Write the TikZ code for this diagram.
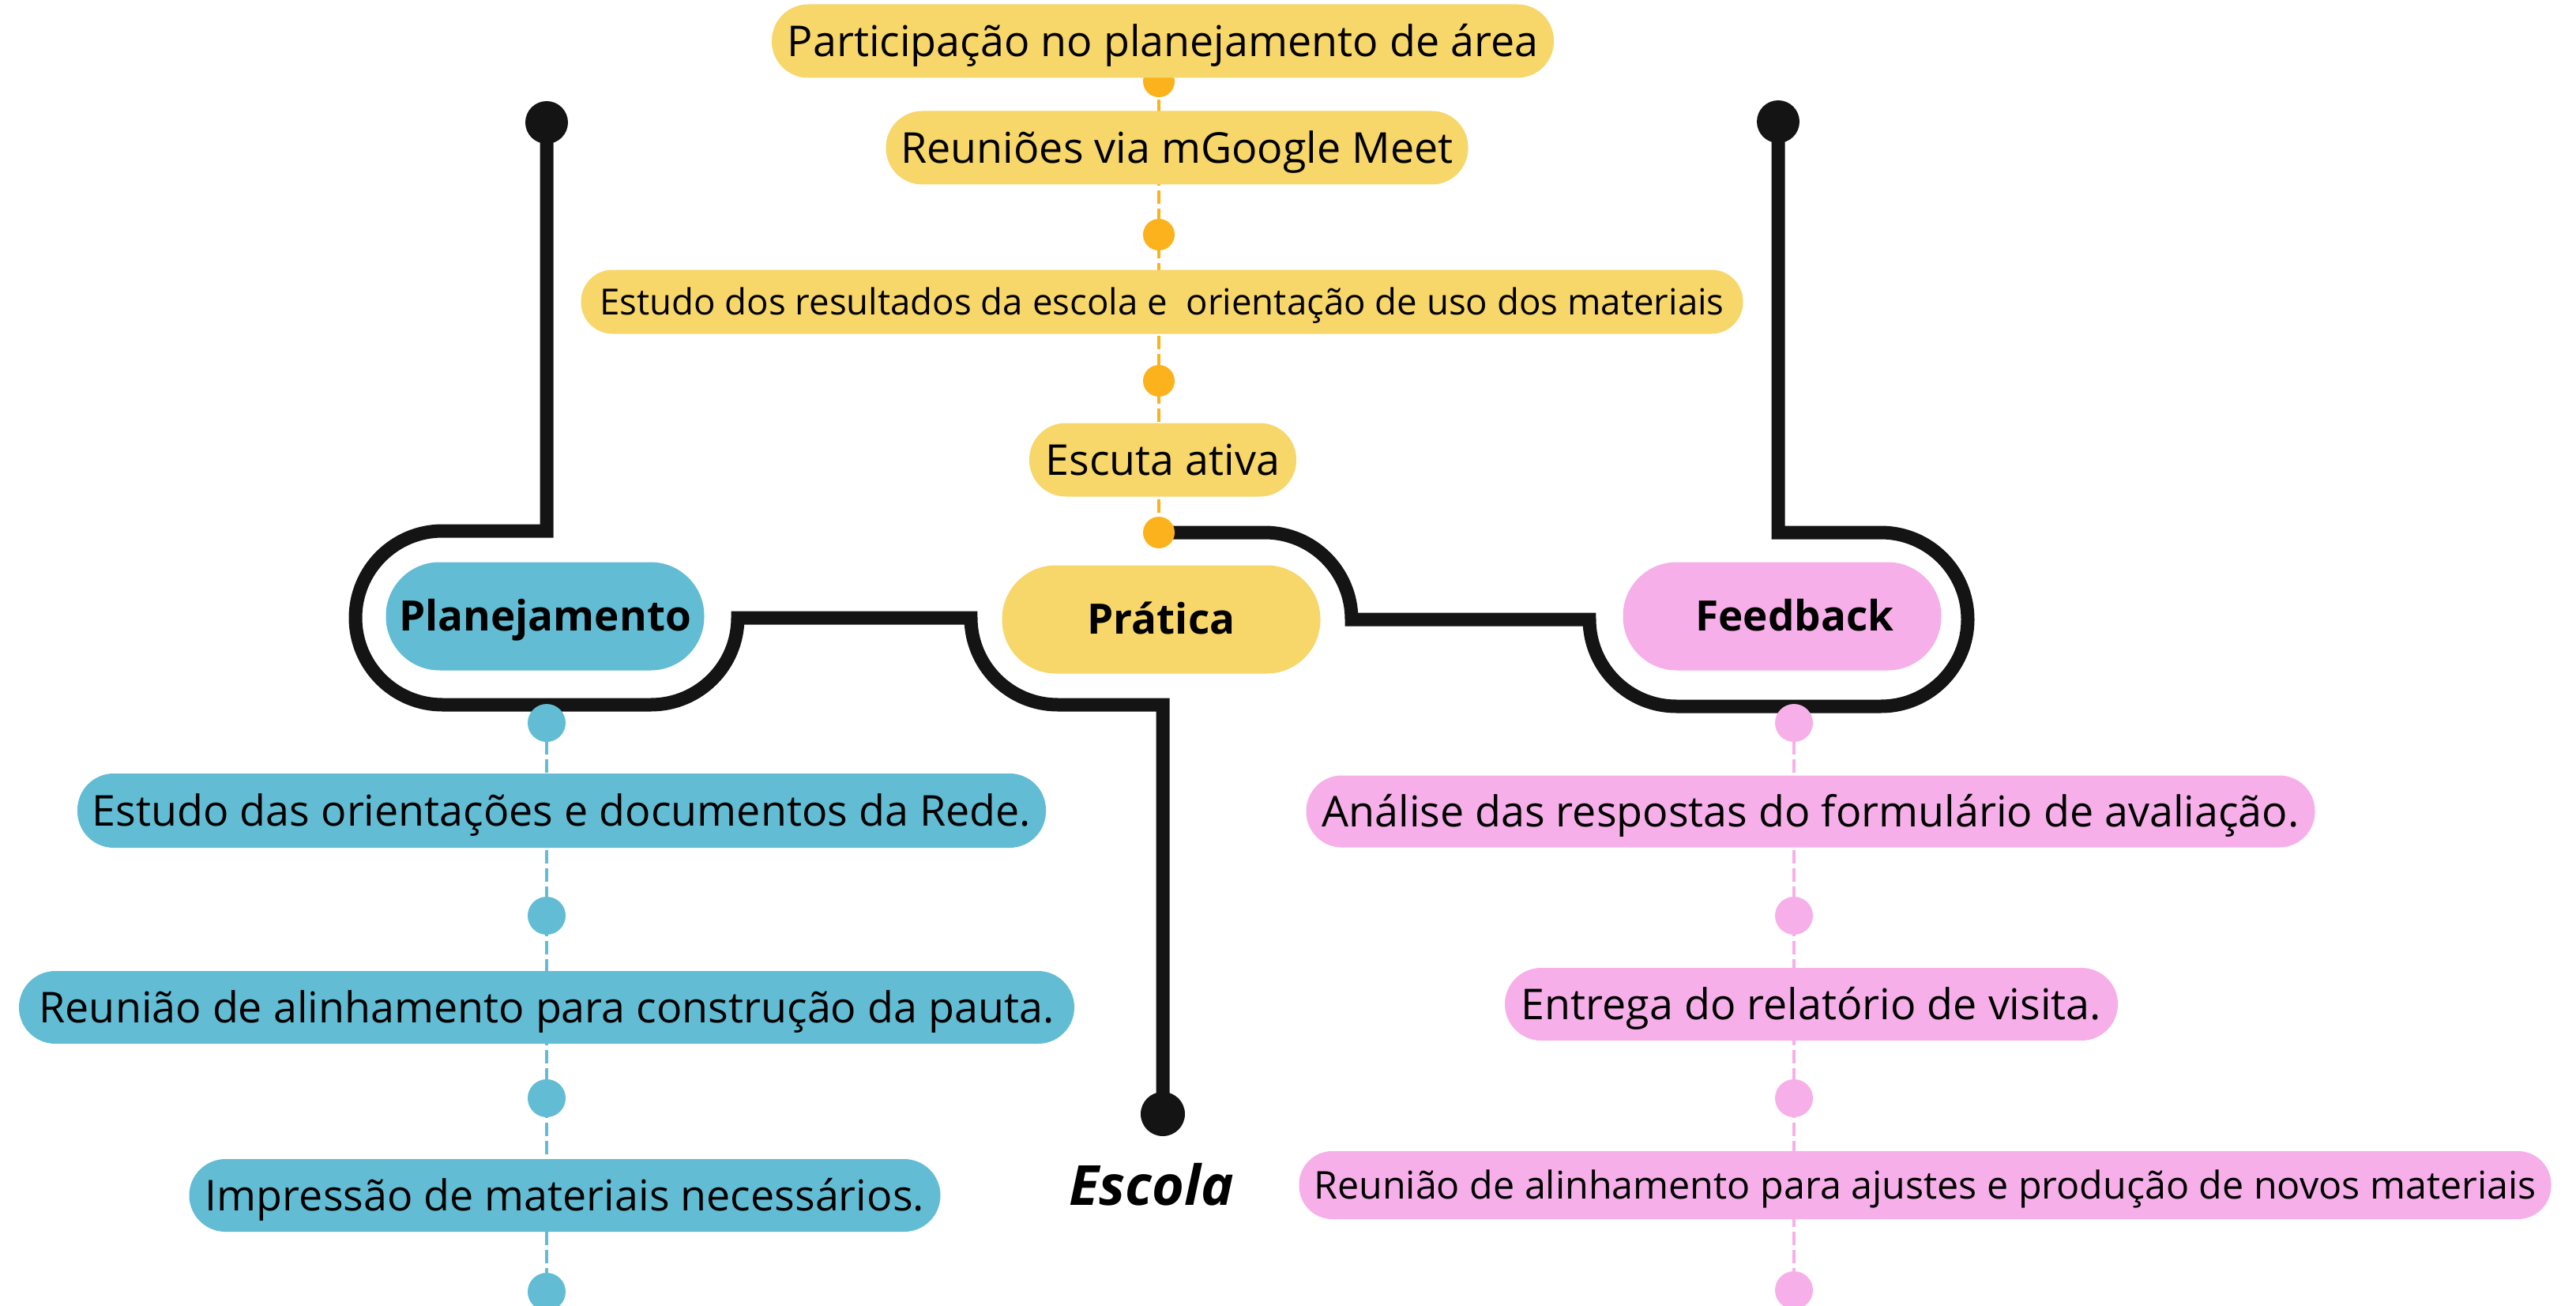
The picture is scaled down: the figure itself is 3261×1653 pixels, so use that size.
\documentclass[tikz,border=0pt]{standalone}
\usepackage{fontspec}
\setmainfont{Open Sans}
\usetikzlibrary{backgrounds}
\definecolor{cblue}{HTML}{62BCD4}
\definecolor{cyel}{HTML}{F7D66A}
\definecolor{cpink}{HTML}{F6AFE9}
\definecolor{corange}{HTML}{FBB21C}
\definecolor{cblack}{HTML}{141414}
\tikzset{
  pill/.style={inner sep=0pt, text=black, font=\fontsize{26.9}{32}\selectfont, text height=19.2pt, text depth=0pt},
  ybox/.style={pill, fill=cyel},
  bbox/.style={pill, fill=cblue},
  pbox/.style={pill, fill=cpink},
  smallyel/.style={font=\fontsize{22.8}{27}\selectfont, text height=16.3pt},
  smallpink/.style={font=\fontsize{24.2}{29}\selectfont, text height=17.3pt},
  headtxt/.style={font=\bfseries\fontsize{26.5}{32}\selectfont, text height=18.9pt, minimum width=201.5pt, minimum height=68.5pt, rounded corners=34pt},
  dotnode/.style={circle, inner sep=0pt, minimum size=#1},
  blackline/.style={draw=cblack, line width=8.5pt},
  dashline/.style={line width=2pt, dash pattern=on 8.5pt off 3pt},
}
\begin{document}
\begin{tikzpicture}[x=0.5pt,y=-0.5pt]
\useasboundingbox (0,0) rectangle (3261,1653);

% black dots
\node[dotnode=27pt, fill=cblack] (tl) at (692,155) {};
\node[dotnode=27pt, fill=cblack] (tr) at (2251,154) {};
\node[dotnode=28pt, fill=cblack] (esc) at (1472,1410) {};

% yellow dots
\node[dotnode=20pt, fill=corange] (y1) at (1467,103) {};
\node[dotnode=20pt, fill=corange] (y2) at (1467,297) {};
\node[dotnode=20pt, fill=corange] (y3) at (1467,482) {};
\node[dotnode=20pt, fill=corange] (y4) at (1467,674) {};

% blue dots
\node[dotnode=24pt, fill=cblue] (b1) at (692,915) {};
\node[dotnode=24pt, fill=cblue] (b2) at (692,1159) {};
\node[dotnode=24pt, fill=cblue] (b3) at (692,1390) {};
\node[dotnode=24pt, fill=cblue] (b4) at (692,1635) {};

% pink dots
\node[dotnode=24pt, fill=cpink] (p1) at (2271,915) {};
\node[dotnode=24pt, fill=cpink] (p2) at (2271,1159) {};
\node[dotnode=24pt, fill=cpink] (p3) at (2271,1390) {};
\node[dotnode=24pt, fill=cpink] (p4) at (2271,1633) {};

% yellow boxes
\node[ybox, minimum width=495pt, minimum height=46.5pt, rounded corners=23pt] (ya) at (1472,52) {Participação no planejamento de área};
\node[ybox, minimum width=368.5pt, minimum height=46.5pt, rounded corners=23pt] (yb) at (1490,187) {Reuniões via mGoogle Meet};
\node[ybox, smallyel, minimum width=735.5pt, minimum height=40.5pt, rounded corners=20pt] (yc) at (1471,382) {Estudo dos resultados da escola e~ orientação de uso dos materiais};
\node[ybox, minimum width=169pt, minimum height=46.5pt, rounded corners=23pt] (yd) at (1472,582) {Escuta ativa};

% headers
\node[pill, fill=cblue, headtxt] (plan) at (690,780) {Planejamento};
\node[pill, fill=cyel, headtxt] (prat) at (1470,784) {Prática};
\node[pill, fill=cpink, headtxt] (feed) at (2256,780) {\hspace{16pt}Feedback};

% blue boxes
\node[bbox, minimum width=613pt, minimum height=47pt, rounded corners=23pt] (ba) at (711,1026) {Estudo das orientações e documentos da Rede.};
\node[bbox, minimum width=668pt, minimum height=46pt, rounded corners=23pt] (bb) at (692,1275) {Reunião de alinhamento para construção da pauta.};
\node[bbox, minimum width=475.5pt, minimum height=46pt, rounded corners=23pt] (bc) at (715,1513) {Impressão de materiais necessários.};

% pink boxes
\node[pbox, minimum width=638.5pt, minimum height=45.5pt, rounded corners=22.5pt] (pa) at (2292,1027) {Análise das respostas do formulário de avaliação.};
\node[pbox, minimum width=388pt, minimum height=46pt, rounded corners=23pt] (pb) at (2293,1271) {Entrega do relatório de visita.};
\node[pbox, smallpink, minimum width=792.5pt, minimum height=43pt, rounded corners=21pt] (pc) at (2437,1500) {Reunião de alinhamento para ajustes e produção de novos materiais};

% Escola label
\node[anchor=base, inner sep=0pt, font=\bfseries\itshape\fontsize{35}{42}\selectfont] (escola) at (1458,1525) {Escola};

\begin{scope}[on background layer]
  % left black path
  \draw[blackline] (tl.center) -- (692,672) -- (560,672)
     arc[start angle=270, end angle=90, radius=110] -- (824,892)
     arc[start angle=90, end angle=0, radius=110] -- (1229,782)
     arc[start angle=180, end angle=90, radius=110] -- (1472,892) -- (esc.center);
  % right black path
  \draw[blackline] (y4.center) -- (1601,674)
     arc[start angle=270, end angle=360, radius=110] -- (2012,784)
     arc[start angle=180, end angle=90, radius=110] -- (2381,894)
     arc[start angle=90, end angle=-90, radius=110] -- (2251,674) -- (tr.center);
  % dashed columns
  \draw[dashline, corange] (y1.center) -- (y4.center);
  \draw[dashline, cblue] (b1.center) -- (b4.center);
  \draw[dashline, cpink] (p1.center) -- (p4.center);
\end{scope}
\end{tikzpicture}
\end{document}
